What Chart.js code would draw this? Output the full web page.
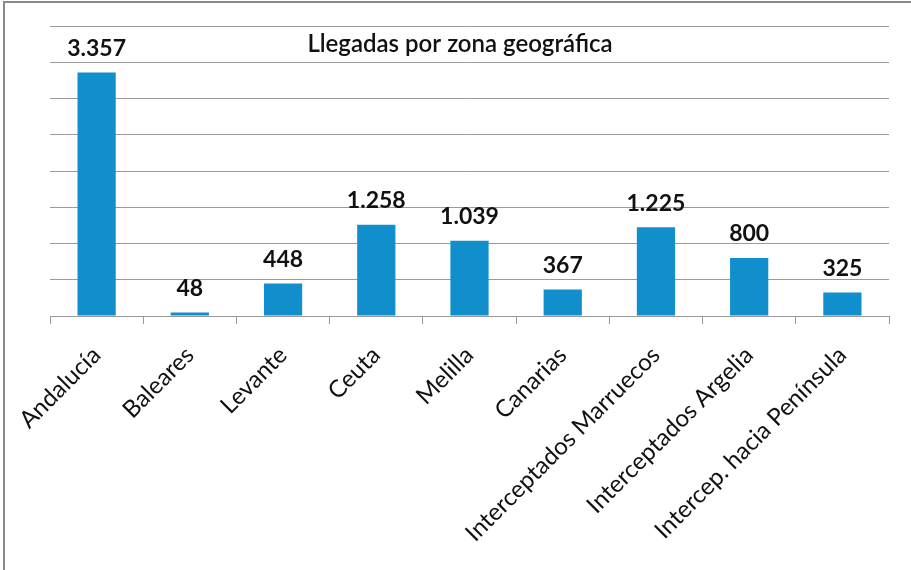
<!DOCTYPE html>
<html>
<head>
<meta charset="utf-8">
<script src="https://cdn.jsdelivr.net/npm/chart.js@4"></script>
<style>
    html, body { margin: 0; padding: 0; background: #fff; }
    #wrap { position: relative; width: 911px; height: 570px; }
    #frame {
        position: absolute; left: 3px; top: 1px; width: 908px; height: 567px;
        border-left: 2px solid #8a8a8a; border-top: 2px solid #8a8a8a;
        border-bottom: 1px solid #e4e4e4; pointer-events: none;
    }
</style>
</head>
<body>
<div id="wrap">
    <canvas id="chart" width="911" height="570"></canvas>
    <div id="frame"></div>
</div>
<script>
const zonas = ['Andalucía', 'Baleares', 'Levante', 'Ceuta', 'Melilla', 'Canarias',
    'Interceptados Marruecos', 'Interceptados Argelia', 'Intercep. hacia Península']
const llegadas = [3357, 48, 448, 1258, 1039, 367, 1225, 800, 325]
const titulo = 'Llegadas por zona geográfica'

const FONT = 'Lato, "Open Sans", sans-serif'

// formato con punto de miles, como en el original
function fmt(v) {
    return String(v).replace(/\B(?=(\d{3})+(?!\d))/g, '.')
}

// etiquetas de valor encima de cada barra + título dentro del área
const labelsPlugin = {
    id: 'labelsPlugin',
    afterDatasetsDraw(chart) {
        const ctx = chart.ctx
        const meta = chart.getDatasetMeta(0)
        ctx.save()
        ctx.fillStyle = '#111'
        ctx.font = 'bold 23px ' + FONT
        ctx.textAlign = 'center'
        ctx.textBaseline = 'middle'
        meta.data.forEach((bar, i) => {
            ctx.fillText(fmt(llegadas[i]), bar.x, bar.y - 24)
        })
        ctx.font = '600 24px ' + FONT
        ctx.fillText(titulo, 460, 44)
        ctx.restore()
    }
}

new Chart(document.getElementById('chart'), {
    type: 'bar',
    data: {
        labels: zonas,
        datasets: [{
            data: llegadas,
            backgroundColor: '#108fcc',
            categoryPercentage: 1,
            barPercentage: 0.41
        }]
    },
    options: {
        responsive: false,
        animation: false,
        layout: { padding: { left: 50, right: 22, top: 26, bottom: 0 } },
        plugins: { legend: { display: false }, tooltip: { enabled: false } },
        scales: {
            x: {
                grid: {
                    offset: true,
                    drawOnChartArea: false,
                    drawTicks: true,
                    tickLength: 8,
                    color: '#9a9a9a'
                },
                border: { color: '#9a9a9a', width: 1 },
                ticks: {
                    autoSkip: false,
                    minRotation: 45,
                    maxRotation: 45,
                    padding: 17,
                    color: '#111',
                    font: { family: FONT, size: 24 }
                },
                afterFit(scale) { scale.height = 254 }
            },
            y: {
                min: 0,
                max: 4000,
                ticks: { stepSize: 500, display: false },
                grid: { color: '#9a9a9a', drawTicks: false },
                border: { display: false }
            }
        }
    },
    plugins: [labelsPlugin]
})
</script>
</body>
</html>
